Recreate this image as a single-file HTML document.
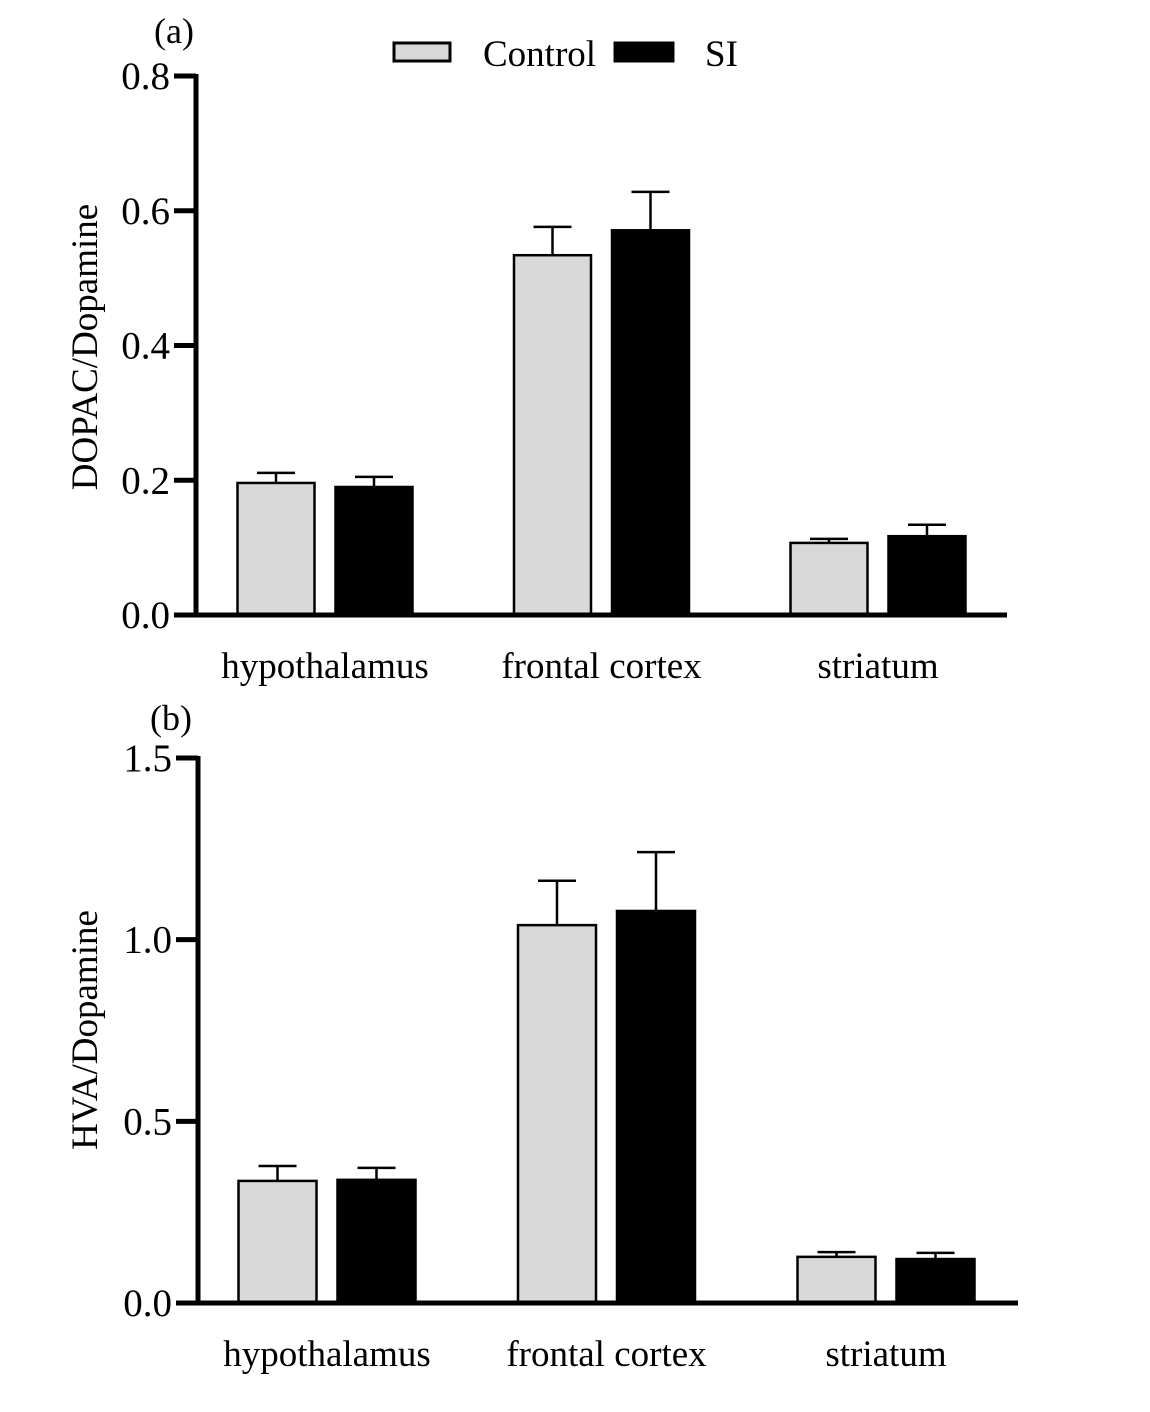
<!DOCTYPE html>
<html><head><meta charset="utf-8"><style>
body{margin:0;background:#fff}
svg text{font-family:"Liberation Serif",serif;fill:#000}
</style></head><body>
<svg id="chart" width="1150" height="1407" viewBox="0 0 1150 1407" xmlns="http://www.w3.org/2000/svg">
<text x="154" y="43" font-size="36">(a)</text>
<text x="150" y="730" font-size="36">(b)</text>
<g>
<rect x="394" y="43" width="56" height="18" fill="#d9d9d9" stroke="#000" stroke-width="3"/>
<text x="483" y="66" font-size="37">Control</text>
<rect x="615" y="43" width="58" height="18" fill="#000" stroke="#000" stroke-width="3"/>
<text x="705" y="66" font-size="37">SI</text>
</g>
<g id="pa"></g><g id="pb"></g>
</svg>
<script>
const categories = ["hypothalamus","frontal cortex","striatum"];
const aControl = [0.196, 0.534, 0.107];
const aControlErr = [0.015, 0.042, 0.006];
const aSI = [0.190, 0.571, 0.117];
const aSIErr = [0.015, 0.057, 0.017];
const aTicks = [0.0, 0.2, 0.4, 0.6, 0.8];
const bControl = [0.336, 1.040, 0.127];
const bControlErr = [0.041, 0.122, 0.013];
const bSI = [0.339, 1.079, 0.121];
const bSIErr = [0.033, 0.162, 0.017];
const bTicks = [0.0, 0.5, 1.0, 1.5];
const NS="http://www.w3.org/2000/svg";
function mk(parent,tag,attrs,txt){const e=document.createElementNS(NS,tag);for(const k in attrs)e.setAttribute(k,attrs[k]);if(txt!==undefined)e.textContent=txt;parent.appendChild(e);return e;}
function panel(g,cfg){
  const y=v=>cfg.y0-(v-cfg.min)/(cfg.max-cfg.min)*(cfg.y0-cfg.y1);
  categories.forEach((c,i)=>{
    const cx=cfg.x0+cfg.off+cfg.step*i;
    [[cfg.ctrl,cfg.ctrlE,"#d9d9d9",-1,"control"],[cfg.si,cfg.siE,"#000",1,"si"]].forEach(([vals,errs,fill,side,nm])=>{
      const bx=side<0?cx-cfg.gap/2-cfg.bw:cx+cfg.gap/2;
      const mid=bx+cfg.bw/2;
      const l=mk(g,"line",{x1:mid,x2:mid,y1:y(vals[i]),y2:y(vals[i]+errs[i]),stroke:"#000","stroke-width":2.5});
      
      
      const cp=mk(g,"line",{x1:mid-19,x2:mid+19,y1:y(vals[i]+errs[i]),y2:y(vals[i]+errs[i]),stroke:"#000","stroke-width":2.5});
      
      
      const r=mk(g,"rect",{x:bx,y:y(vals[i]),width:cfg.bw,height:y(0)-y(vals[i]),fill:fill,stroke:"#000","stroke-width":2.5});
      
      
    });
    const t=mk(g,"text",{x:cx,y:cfg.labY,"font-size":37,"text-anchor":"middle"},c);
    
    
  });
  const ax=mk(g,"path",{d:`M${cfg.x0},${cfg.y1-2}V${cfg.y0}H${cfg.x1}`,fill:"none",stroke:"#000","stroke-width":5});
  
  
  cfg.ticks.forEach(v=>{
    const tk=mk(g,"line",{x1:cfg.x0-22,x2:cfg.x0,y1:y(v),y2:y(v),stroke:"#000","stroke-width":5});
    
    
    const tl=mk(g,"text",{x:cfg.x0-26,y:y(v)+13,"font-size":39,"text-anchor":"end"},v.toFixed(1));
    
    
  });
  const yt=mk(g,"text",{x:0,y:0,"font-size":37,"text-anchor":"middle",transform:`translate(${cfg.titleX},${cfg.titleY}) rotate(-90)`},cfg.title);
  
  
}
const pa=document.getElementById('pa');
const pb=document.getElementById('pb');
panel(pa,{x0:196,x1:1007,y0:615,y1:76,min:0,max:0.8,ticks:aTicks,ctrl:aControl,ctrlE:aControlErr,si:aSI,siE:aSIErr,bw:77,gap:21,off:129,step:276.5,labY:678,title:"DOPAC/Dopamine",titleX:97,titleY:347});
panel(pb,{x0:198,x1:1018,y0:1303,y1:758,min:0,max:1.5,ticks:bTicks,ctrl:bControl,ctrlE:bControlErr,si:bSI,siE:bSIErr,bw:78,gap:21,off:129,step:279.5,labY:1366,title:"HVA/Dopamine",titleX:97,titleY:1030});
</script>
</body></html>
